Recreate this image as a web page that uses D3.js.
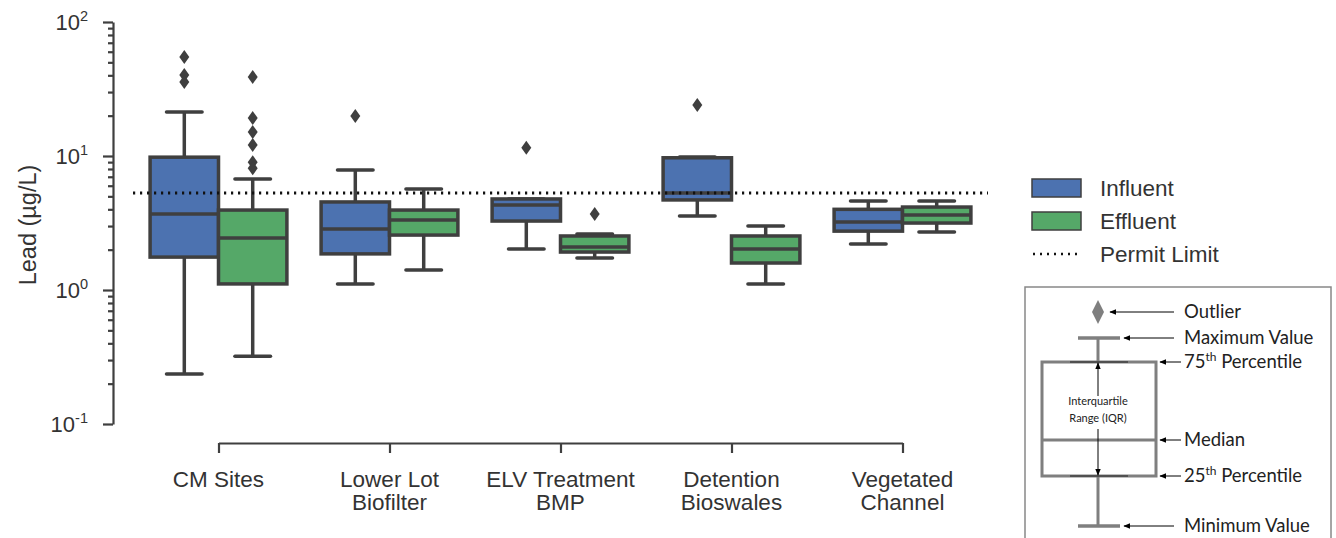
<!DOCTYPE html>
<html>
<head>
<meta charset="utf-8">
<script src="https://cdn.jsdelivr.net/npm/d3@7"></script>
<style>
  body { margin: 0; background: #fff; }
  svg { display: block; font-family: "Liberation Sans", Arial, sans-serif; }
</style>
</head>
<body>
<svg id="chart" width="1336" height="538"></svg>
<script>
// categories (two lines each) and box stats [whislo, q1, med, q3, whishi]
var categories = ['CM Sites', 'Lower Lot Biofilter', 'ELV Treatment BMP',
                  'Detention Bioswales', 'Vegetated Channel'];
var categoryLines = [['CM Sites'], ['Lower Lot', 'Biofilter'], ['ELV Treatment', 'BMP'],
                     ['Detention', 'Bioswales'], ['Vegetated', 'Channel']];
var influentBoxes = [
  [0.236, 1.76, 3.69, 9.8, 21.3],
  [1.11, 1.86, 2.85, 4.54, 7.87],
  [2.02, 3.27, 4.3, 4.78, 4.78],
  [3.57, 4.7, 5.3, 9.7, 9.85],
  [2.2, 2.75, 3.22, 4.0, 4.61]
];
var effluentBoxes = [
  [0.32, 1.11, 2.44, 3.95, 6.73],
  [1.41, 2.57, 3.33, 3.95, 5.67],
  [1.73, 1.92, 2.09, 2.53, 2.62],
  [1.11, 1.59, 2.02, 2.53, 3.0],
  [2.71, 3.16, 3.63, 4.16, 4.61]
];
var influentOutliers = [[54.8, 40.2, 35.6], [19.9], [11.5], [24], []];
var effluentOutliers = [[38.9, 19.2, 15.1, 12.1, 9.0, 8.1], [], [3.69], [], []];
var permitLimit = 5.3;
var majorTicks = [0.1, 1, 10, 100];
var seriesNames = ['Influent', 'Effluent'];
var seriesColors = ['#4c72b0', '#55a868'];

var ink = '#3f3f3f';
var svg = d3.select('#chart');

// scales
var y = d3.scaleLog().domain([0.1, 100]).range([424, 22]);
var xIdx = d3.scaleLinear().domain([-0.5, categories.length - 0.5]).range([133, 988]);
var xCat = d3.scalePoint().domain(categories).range([xIdx(0), xIdx(categories.length - 1)]);
var unit = xIdx(1) - xIdx(0);
var boxW = unit * 0.4;

// y axis: minor ticks then major ticks
var minorTicks = [];
majorTicks.slice(0, -1).forEach(function(m) {
  for (var k = 2; k < 10; k++) minorTicks.push(m * k);
});
var yMinor = svg.append('g').attr('transform', 'translate(113,0)')
  .call(d3.axisLeft(y).tickValues(minorTicks).tickSize(5).tickSizeOuter(0).tickFormat(''));
var yMajor = svg.append('g').attr('transform', 'translate(113,0)')
  .call(d3.axisLeft(y).tickValues(majorTicks).tickSize(10).tickSizeOuter(0).tickFormat(''));
[yMinor, yMajor].forEach(function(g) {
  g.selectAll('path, line').attr('stroke', ink).attr('stroke-width', 2.2);
});
yMinor.select('path').remove();

majorTicks.forEach(function(v) {
  var t = svg.append('text').attr('x', 88).attr('y', y(v) + 8)
    .attr('text-anchor', 'end').attr('fill', '#333').attr('font-size', 22);
  t.append('tspan').text('10');
  t.append('tspan').attr('dy', -9).attr('font-size', 14.5).text(Math.round(Math.log10(v)));
});

svg.append('text')
  .attr('transform', 'translate(36,225) rotate(-90)')
  .attr('text-anchor', 'middle').attr('fill', '#333').attr('font-size', 23.5)
  .text('Lead (\u00b5g/L)');

// x axis (trimmed to first and last tick)
var xAxis = svg.append('g').attr('transform', 'translate(0,443)')
  .call(d3.axisBottom(xCat).tickSize(10).tickSizeOuter(0).tickFormat(''));
xAxis.selectAll('path, line').attr('stroke', ink).attr('stroke-width', 2.2);

categories.forEach(function(c, i) {
  var t = svg.append('text').attr('x', xCat(c)).attr('y', 487)
    .attr('text-anchor', 'middle').attr('fill', '#333').attr('font-size', 22.5);
  categoryLines[i].forEach(function(line, j) {
    t.append('tspan').attr('x', xCat(c)).attr('dy', j === 0 ? 0 : 23).text(line);
  });
});

// boxes
var diamond = 'M0,-7L5,0L0,7L-5,0Z';
function drawBox(g, cx, s, color, outliers) {
  var half = boxW / 2;
  var cap = boxW * 0.26;
  g.append('line').attr('x1', cx).attr('x2', cx).attr('y1', y(s[4])).attr('y2', y(s[3]))
    .attr('stroke', ink).attr('stroke-width', 3.5);
  g.append('line').attr('x1', cx).attr('x2', cx).attr('y1', y(s[1])).attr('y2', y(s[0]))
    .attr('stroke', ink).attr('stroke-width', 3.5);
  [s[0], s[4]].forEach(function(v) {
    g.append('line').attr('x1', cx - cap).attr('x2', cx + cap).attr('y1', y(v)).attr('y2', y(v))
      .attr('stroke', ink).attr('stroke-width', 3.5).attr('stroke-linecap', 'round');
  });
  g.append('rect').attr('x', cx - half).attr('width', boxW)
    .attr('y', y(s[3])).attr('height', y(s[1]) - y(s[3]))
    .attr('fill', color).attr('stroke', ink).attr('stroke-width', 3.5);
  g.append('line').attr('x1', cx - half).attr('x2', cx + half).attr('y1', y(s[2])).attr('y2', y(s[2]))
    .attr('stroke', ink).attr('stroke-width', 3.5);
  outliers.forEach(function(v) {
    g.append('path').attr('d', diamond).attr('transform', 'translate(' + cx + ',' + y(v) + ')')
      .attr('fill', ink);
  });
}

var boxes = svg.append('g');
categories.forEach(function(c, i) {
  drawBox(boxes, xIdx(i - 0.2), influentBoxes[i], seriesColors[0], influentOutliers[i]);
  drawBox(boxes, xIdx(i + 0.2), effluentBoxes[i], seriesColors[1], effluentOutliers[i]);
});

// permit limit
svg.append('line')
  .attr('x1', xIdx(-0.5)).attr('x2', xIdx(categories.length - 0.5))
  .attr('y1', y(permitLimit)).attr('y2', y(permitLimit))
  .attr('stroke', '#111').attr('stroke-width', 3).attr('stroke-dasharray', '2.2,4.8');

// legend
var legend = svg.append('g').attr('transform', 'translate(1032,0)');
seriesNames.forEach(function(n, i) {
  var ly = 188 + i * 33;
  legend.append('rect').attr('x', 0).attr('y', ly - 9).attr('width', 49).attr('height', 18)
    .attr('fill', seriesColors[i]).attr('stroke', ink).attr('stroke-width', 1.5);
  legend.append('text').attr('x', 68).attr('y', ly + 8).attr('font-size', 22.5).attr('fill', '#333').text(n);
});
legend.append('line').attr('x1', 1).attr('x2', 49).attr('y1', 254).attr('y2', 254)
  .attr('stroke', '#111').attr('stroke-width', 2.5).attr('stroke-dasharray', '2,5');
legend.append('text').attr('x', 68).attr('y', 262).attr('font-size', 22.5).attr('fill', '#333').text('Permit Limit');

// explanation box
var ex = svg.append('g').attr('font-family', 'Lato, "Open Sans", sans-serif');
svg.append('defs').append('marker').attr('id', 'arr')
  .attr('viewBox', '0 0 10 10').attr('refX', 9).attr('refY', 5)
  .attr('markerWidth', 7).attr('markerHeight', 7).attr('orient', 'auto-start-reverse')
  .append('path').attr('d', 'M0,1L10,5L0,9Z').attr('fill', '#000');

ex.append('rect').attr('x', 1025).attr('y', 287).attr('width', 306).attr('height', 260)
  .attr('fill', 'none').attr('stroke', '#888').attr('stroke-width', 1.5);
var gx = 1098, gray = '#7f7f7f';
ex.append('line').attr('x1', gx).attr('x2', gx).attr('y1', 338).attr('y2', 526)
  .attr('stroke', gray).attr('stroke-width', 3);
[338, 526].forEach(function(v) {
  ex.append('line').attr('x1', gx - 20).attr('x2', gx + 22).attr('y1', v).attr('y2', v)
    .attr('stroke', gray).attr('stroke-width', 3.5);
});
ex.append('rect').attr('x', 1042).attr('y', 362).attr('width', 114).attr('height', 114)
  .attr('fill', '#fff').attr('stroke', gray).attr('stroke-width', 3);
ex.append('line').attr('x1', 1042).attr('x2', 1156).attr('y1', 440).attr('y2', 440)
  .attr('stroke', gray).attr('stroke-width', 3);
[362, 476].forEach(function(v) {
  ex.append('line').attr('x1', 1070).attr('x2', 1128).attr('y1', v).attr('y2', v)
    .attr('stroke', '#222').attr('stroke-width', 1.2);
});
ex.append('path').attr('d', 'M0,-12L6,0L0,12L-6,0Z').attr('transform', 'translate(' + gx + ',312)')
  .attr('fill', gray);
ex.append('line').attr('x1', gx).attr('x2', gx).attr('y1', 396).attr('y2', 363)
  .attr('stroke', '#000').attr('stroke-width', 1).attr('marker-end', 'url(#arr)');
ex.append('line').attr('x1', gx).attr('x2', gx).attr('y1', 429).attr('y2', 475)
  .attr('stroke', '#000').attr('stroke-width', 1).attr('marker-end', 'url(#arr)');
ex.append('text').attr('x', gx).attr('y', 405).attr('text-anchor', 'middle')
  .attr('font-size', 11).attr('fill', '#222').text('Interquartile');
ex.append('text').attr('x', gx).attr('y', 422).attr('text-anchor', 'middle')
  .attr('font-size', 11).attr('fill', '#222').text('Range (IQR)');

var notes = [
  { y: 312, from: 1174, to: 1110, text: 'Outlier' },
  { y: 338, from: 1174, to: 1124, text: 'Maximum Value' },
  { y: 362, from: 1181, to: 1160, text: '75', sup: 'th', rest: ' Percentile' },
  { y: 440, from: 1181, to: 1160, text: 'Median' },
  { y: 476, from: 1181, to: 1160, text: '25', sup: 'th', rest: ' Percentile' },
  { y: 526, from: 1174, to: 1124, text: 'Minimum Value' }
];
notes.forEach(function(n) {
  ex.append('line').attr('x1', n.from).attr('x2', n.to).attr('y1', n.y).attr('y2', n.y)
    .attr('stroke', '#000').attr('stroke-width', 1).attr('marker-end', 'url(#arr)');
  var t = ex.append('text').attr('x', 1184).attr('y', n.y + 6)
    .attr('font-size', 18.5).attr('fill', '#222');
  t.append('tspan').text(n.text);
  if (n.sup) {
    t.append('tspan').attr('dy', -7).attr('font-size', 12).text(n.sup);
    t.append('tspan').attr('dy', 7).text(n.rest);
  }
});
</script>
</body>
</html>
